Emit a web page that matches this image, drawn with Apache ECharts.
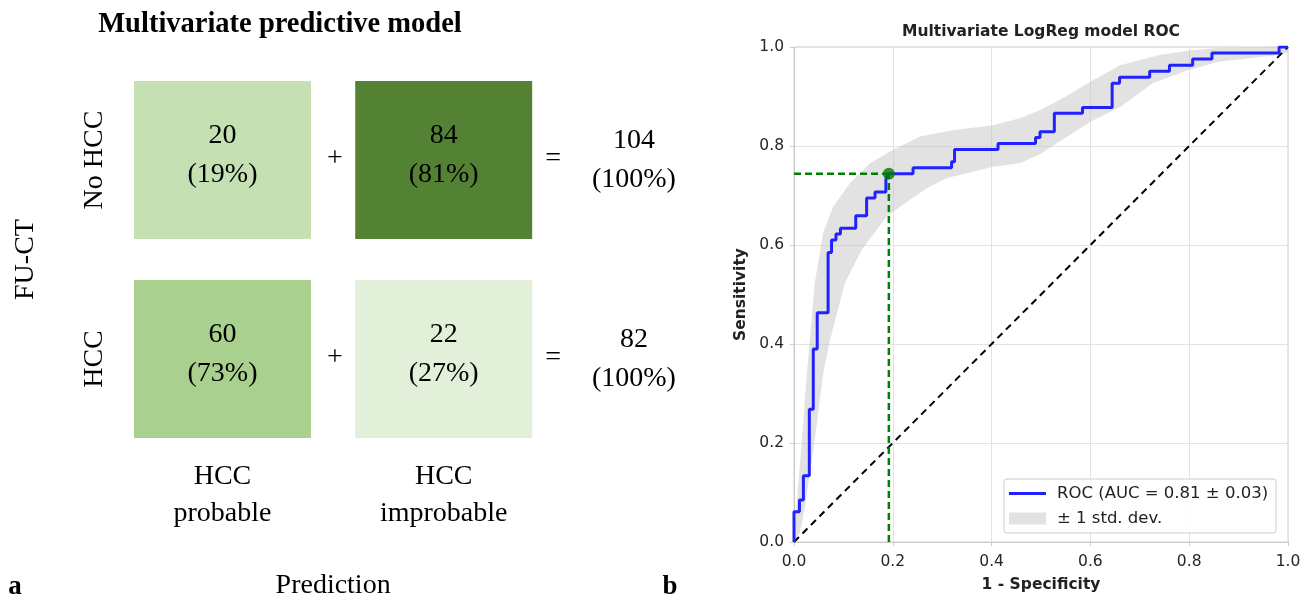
<!DOCTYPE html>
<html lang="en">
    <head>
        <meta charset="utf-8">
        <title>Multivariate model</title>
        <script src="https://cdn.jsdelivr.net/npm/echarts@6/dist/echarts.min.js"></script>
        <style>
            body { margin: 0; background: #fff; }
        </style>
    </head>
    <body>
        <div id="main" style="width: 1313px;height: 598px;"></div>

        <script type="text/javascript">

            // confusion matrix (left panel)
            const predCategories = ['HCC\nprobable', 'HCC\nimprobable'];
            const truthCategories = ['No HCC', 'HCC'];
            const cellCounts = [[20, 84], [60, 22]];
            const cellPercents = [[19, 81], [73, 27]];

            // ROC curve (right panel)
            const rocFpr = [0, 0, 0.011, 0.011, 0.019, 0.019, 0.031, 0.031, 0.039, 0.039, 0.047, 0.047,
                0.069, 0.069, 0.076, 0.076, 0.085, 0.085, 0.094, 0.094, 0.125, 0.125, 0.147, 0.147,
                0.164, 0.164, 0.186, 0.186, 0.19, 0.19, 0.241, 0.241, 0.319, 0.319, 0.325, 0.325,
                0.413, 0.413, 0.489, 0.489, 0.498, 0.498, 0.527, 0.527, 0.584, 0.584, 0.644, 0.644,
                0.659, 0.659, 0.72, 0.72, 0.76, 0.76, 0.807, 0.807, 0.846, 0.846, 0.982, 0.982, 1];
            const rocTpr = [0, 0.061, 0.061, 0.085, 0.085, 0.134, 0.134, 0.268, 0.268, 0.39, 0.39, 0.463,
                0.463, 0.585, 0.585, 0.61, 0.61, 0.622, 0.622, 0.634, 0.634, 0.659, 0.659, 0.695,
                0.695, 0.707, 0.707, 0.732, 0.732, 0.744, 0.744, 0.756, 0.756, 0.768, 0.768, 0.793,
                0.793, 0.805, 0.805, 0.817, 0.817, 0.829, 0.829, 0.866, 0.866, 0.878, 0.878, 0.927,
                0.927, 0.939, 0.939, 0.951, 0.951, 0.963, 0.963, 0.976, 0.976, 0.988, 0.988, 1, 1];

            // +/- 1 std band: upper (left) edge and lower (right) edge
            const bandUpperX = [0, 0.002, 0.005, 0.016, 0.026, 0.032, 0.042, 0.059, 0.079, 0.113, 0.154,
                0.2, 0.255, 0.322, 0.403, 0.457, 0.5, 0.55, 0.6, 0.66, 0.74, 0.8, 0.86, 1];
            const bandUpperY = [0, 0.03, 0.071, 0.206, 0.341, 0.408, 0.523, 0.624, 0.677, 0.725, 0.765,
                0.792, 0.819, 0.832, 0.842, 0.856, 0.873, 0.9, 0.93, 0.963, 0.984, 0.993, 0.998, 1];
            const bandLowerX = [0, 0.012, 0.022, 0.042, 0.059, 0.073, 0.103, 0.137, 0.187, 0.234, 0.27,
                0.308, 0.403, 0.457, 0.5, 0.6, 0.66, 0.726, 0.8, 0.86, 0.982, 1];
            const bandLowerY = [0, 0.018, 0.071, 0.206, 0.341, 0.408, 0.523, 0.59, 0.657, 0.691, 0.715,
                0.735, 0.758, 0.765, 0.785, 0.849, 0.879, 0.927, 0.954, 0.97, 0.984, 0.99];

            const cutoff = [0.192, 0.744];
            const rocTicks = [0, 0.2, 0.4, 0.6, 0.8, 1.0];

            const rocName = 'ROC (AUC = 0.81 \u00b1 0.03)';
            const bandName = '\u00b1 1 std. dev.';

            const cellColors = [['#c5e0b3', '#548235'], ['#a9d08e', '#e2efd9']];
            const serif = '"Liberation Serif", "Times New Roman", serif';
            const sans = '"DejaVu Sans", sans-serif';

            let myChart = echarts.init(document.getElementById('main'));

            let cellData = [];
            cellCounts.forEach((row, r) => {
                row.forEach((v, c) => {
                    cellData.push([c, r, v, cellPercents[r][c]]);
                });
            });
            let rowTotals = cellCounts.map(row => row[0] + row[1]);

            let bandX = bandUpperX.concat(bandLowerX.slice().reverse());
            let bandY = bandUpperY.concat(bandLowerY.slice().reverse());

            function serifText(text, x, y) {
                return {
                    type: 'text',
                    style: {
                        text: text, x: x, y: y,
                        align: 'center', verticalAlign: 'middle',
                        fontFamily: serif, fontSize: 28, lineHeight: 39,
                        fill: '#000'
                    }
                };
            }

            let options = {
                animation: false,
                title: [
                    {text: 'Multivariate predictive model', left: 280, top: 10, textAlign: 'center', padding: 0,
                        textStyle: {fontFamily: serif, fontSize: 28.5, fontWeight: 'bold', color: '#000'}},
                    {text: 'Multivariate LogReg model ROC', left: 1041, top: 24, textAlign: 'center', padding: 0,
                        textStyle: {fontFamily: sans, fontSize: 15.5, fontWeight: 'bold', color: '#222'}},
                    {text: 'a', left: 15, top: 574, textAlign: 'center', padding: 0,
                        textStyle: {fontFamily: serif, fontSize: 27, fontWeight: 'bold', color: '#000'}},
                    {text: 'b', left: 670, top: 574, textAlign: 'center', padding: 0,
                        textStyle: {fontFamily: serif, fontSize: 27, fontWeight: 'bold', color: '#000'}}
                ],
                legend: {
                    data: [
                        {name: rocName, icon: 'path://M0,0H37V3H0Z', itemStyle: {color: '#2222ff'}},
                        {name: bandName, icon: 'rect'}
                    ],
                    orient: 'vertical',
                    left: 1004, top: 479,
                    padding: [6, 8, 6, 5],
                    itemGap: 8,
                    itemWidth: 37, itemHeight: 12,
                    borderColor: '#cccccc', borderWidth: 1, borderRadius: 3,
                    backgroundColor: 'rgba(255,255,255,0.85)',
                    textStyle: {fontFamily: sans, fontSize: 16.5, color: '#222', padding: [0, 0, 0, 6]}
                },
                grid: [
                    {left: 111.9, width: 442.4, top: 60.5, height: 398, outerBoundsMode: 'none'},
                    {left: 794, right: 25, top: 47, bottom: 56, outerBoundsMode: 'none',
                        show: true, borderColor: '#cccccc', borderWidth: 1}
                ],
                xAxis: [
                    {
                        type: 'category', gridIndex: 0, data: predCategories,
                        axisLine: {show: false}, axisTick: {show: false},
                        axisLabel: {fontFamily: serif, fontSize: 28, lineHeight: 37, color: '#000', margin: 0},
                        name: 'Prediction', nameLocation: 'middle', nameGap: 113,
                        nameTextStyle: {fontFamily: serif, fontSize: 28, color: '#000'}
                    },
                    {
                        type: 'value', gridIndex: 1, min: 0, max: 1, interval: 0.2,
                        axisLine: {lineStyle: {color: '#cccccc'}},
                        axisTick: {show: true, length: 4, lineStyle: {color: '#cccccc'}},
                        axisLabel: {fontFamily: sans, fontSize: 15.5, color: '#262626', margin: 12,
                            formatter: v => v.toFixed(1)},
                        splitLine: {show: true, lineStyle: {color: '#e3e3e3', width: 1}},
                        name: '1 - Specificity', nameLocation: 'middle', nameGap: 35,
                        nameTextStyle: {fontFamily: sans, fontSize: 15.5, fontWeight: 'bold', color: '#222'}
                    }
                ],
                yAxis: [
                    {
                        type: 'category', gridIndex: 0, data: truthCategories, inverse: true,
                        axisLine: {show: false}, axisTick: {show: false},
                        axisLabel: {fontFamily: serif, fontSize: 28, color: '#000', rotate: 90, margin: 3},
                        name: 'FU-CT', nameLocation: 'middle', nameGap: 72, nameRotate: 90,
                        nameTextStyle: {fontFamily: serif, fontSize: 28, color: '#000'}
                    },
                    {
                        type: 'value', gridIndex: 1, min: 0, max: 1, interval: 0.2,
                        axisLine: {show: true, lineStyle: {color: '#cccccc'}},
                        axisTick: {show: true, length: 4, lineStyle: {color: '#cccccc'}},
                        axisLabel: {fontFamily: sans, fontSize: 15.5, color: '#262626', margin: 10,
                            formatter: v => v.toFixed(1)},
                        splitLine: {show: true, lineStyle: {color: '#e3e3e3', width: 1}},
                        name: 'Sensitivity', nameLocation: 'middle', nameGap: 45,
                        nameTextStyle: {fontFamily: sans, fontSize: 15.5, fontWeight: 'bold', color: '#222'}
                    }
                ],
                series: [
                    {
                        type: 'custom', name: 'matrix', xAxisIndex: 0, yAxisIndex: 0,
                        data: cellData, silent: true,
                        renderItem: function (params, api) {
                            let c = api.value(0), r = api.value(1);
                            let p = api.coord([c, r]);
                            let s = api.size([1, 1]);
                            let w = s[0] * 0.8, h = s[1] * 0.795;
                            let children = [
                                {type: 'rect', shape: {x: p[0] - w / 2, y: p[1] - h / 2, width: w, height: h},
                                    style: {fill: cellColors[r][c]}},
                                serifText(api.value(2) + '\n(' + api.value(3) + '%)', p[0], p[1] - 4.5)
                            ];
                            if (c === 0) {
                                children.push(serifText('+', p[0] + s[0] * 0.508, p[1] - 1));
                            } else {
                                children.push(serifText('=', p[0] + s[0] * 0.495, p[1] - 1));
                                children.push(serifText(rowTotals[r] + '\n(100%)', p[0] + s[0] * 0.86, p[1]));
                            }
                            return {type: 'group', children: children};
                        }
                    },
                    {
                        type: 'custom', name: bandName, xAxisIndex: 1, yAxisIndex: 1,
                        data: [[0, 0]], silent: true, z: 1,
                        itemStyle: {color: 'rgba(190,190,190,0.45)'},
                        renderItem: function (params, api) {
                            let pts = bandX.map((x, i) => api.coord([x, bandY[i]]));
                            return {type: 'polygon', shape: {points: pts},
                                style: {fill: 'rgba(190,190,190,0.45)'}};
                        }
                    },
                    {
                        type: 'line', name: 'chance', xAxisIndex: 1, yAxisIndex: 1,
                        data: [[0, 0], [1, 1]], symbol: 'none', silent: true, z: 2,
                        lineStyle: {color: '#000', width: 2, type: [7, 5]}
                    },
                    {
                        type: 'line', name: 'cutH', xAxisIndex: 1, yAxisIndex: 1,
                        data: [[0, cutoff[1]], cutoff], symbol: 'none', silent: true, z: 3,
                        lineStyle: {color: '#008000', width: 2.5, type: [7, 4]}
                    },
                    {
                        type: 'line', name: 'cutV', xAxisIndex: 1, yAxisIndex: 1,
                        data: [[cutoff[0], 0], cutoff], symbol: 'none', silent: true, z: 3,
                        lineStyle: {color: '#008000', width: 2.5, type: [7, 4]}
                    },
                    {
                        type: 'line', name: rocName, xAxisIndex: 1, yAxisIndex: 1,
                        data: rocFpr.map((x, i) => [x, rocTpr[i]]), symbol: 'none', z: 4,
                        itemStyle: {color: '#2222ff'},
                        lineStyle: {color: '#2222ff', width: 3}
                    },
                    {
                        type: 'scatter', name: 'cutoff', xAxisIndex: 1, yAxisIndex: 1,
                        data: [cutoff], symbolSize: 12, z: 5,
                        itemStyle: {color: '#007a00'}
                    }
                ]
            };

            myChart.setOption(options);

        </script>
    </body>
</html>
